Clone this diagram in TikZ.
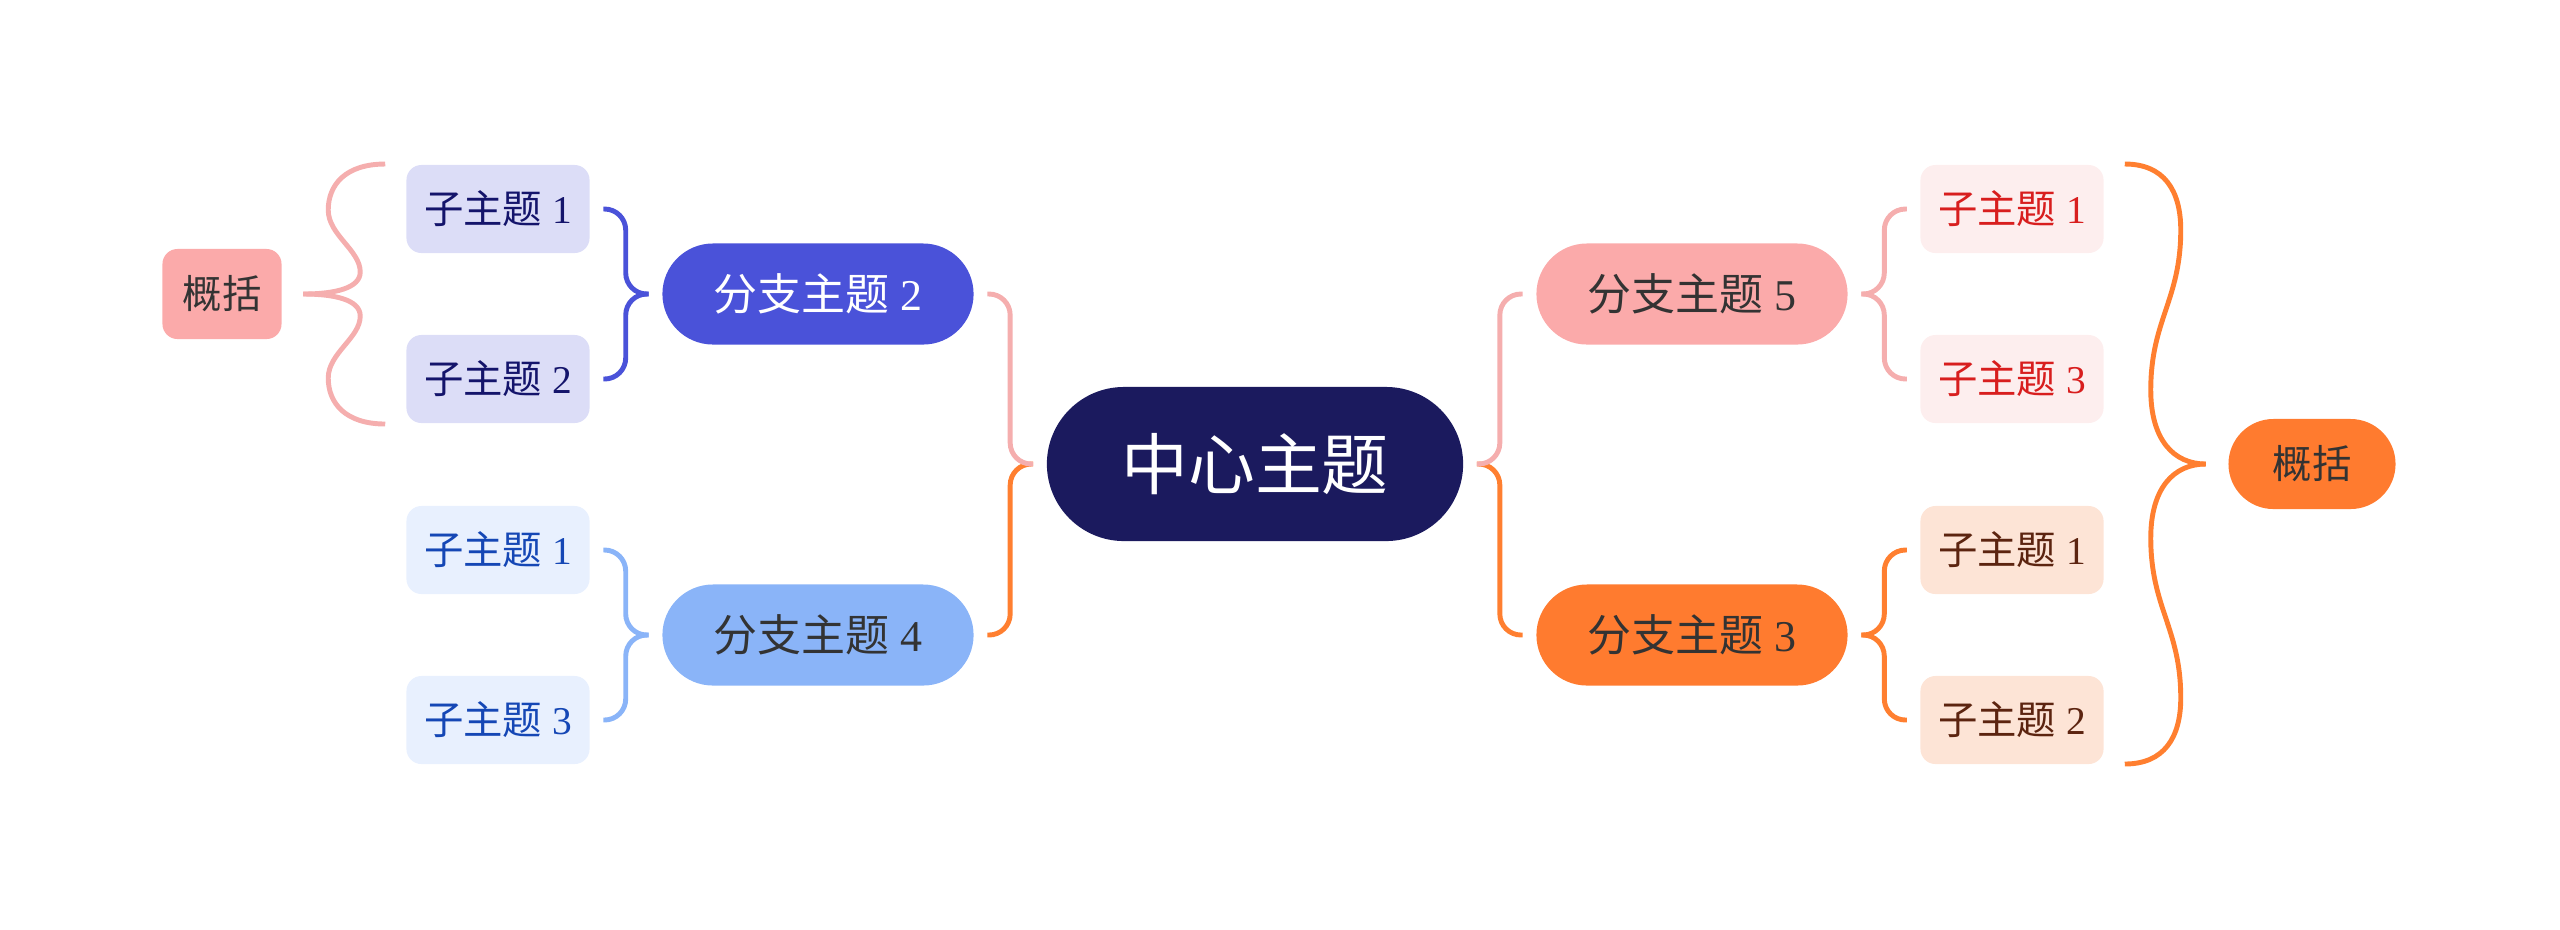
\documentclass[tikz,border=0pt]{standalone}
\usepackage{fontspec}
\setmainfont{Liberation Serif}
\newfontfamily\cjk{Noto Sans CJK SC}
\usepackage{tikz}
\usetikzlibrary{calc}
\definecolor{KNavy}{HTML}{1B1A5E}
\definecolor{KViolet}{HTML}{4A52D9}
\definecolor{KSkyBlue}{HTML}{8AB4F8}
\definecolor{KRose}{HTML}{FBAAAA}
\definecolor{KOrange}{HTML}{FF7B2F}
\definecolor{KInk}{HTML}{333333}
\definecolor{KLavender}{HTML}{DCDDF7}
\definecolor{KNavyText}{HTML}{14146B}
\definecolor{KIce}{HTML}{E8F0FE}
\definecolor{KBlueText}{HTML}{1547B5}
\definecolor{KBlush}{HTML}{FDEEEE}
\definecolor{KRedText}{HTML}{D81E1E}
\definecolor{KPeach}{HTML}{FDE4D6}
\definecolor{KBrownText}{HTML}{5C2410}
\definecolor{KPinkLine}{HTML}{F5AEAE}
\definecolor{KOrangeLine}{HTML}{FF7F30}
\tikzset{
  topic/.style={rectangle,inner sep=0pt,align=center},
  hub/.style={topic,fill=KNavy,text=white,minimum width=4.16cm,
              minimum height=1.54cm,rounded corners=0.77cm,
              font=\fontsize{19}{22}\selectfont},
  branch/.style={topic,minimum width=3.11cm,minimum height=1.01cm,
                 rounded corners=0.505cm,font=\fontsize{12.5}{15}\selectfont},
  leaf/.style={topic,minimum width=1.83cm,minimum height=0.88cm,
               rounded corners=0.15cm,font=\fontsize{11.2}{13}\selectfont},
  summary/.style={topic,minimum height=0.90cm,text=KInk,
                  font=\fontsize{11.2}{13}\selectfont},
  link/.style={line width=1.4pt,rounded corners=6pt},
  curl/.style={line width=1.4pt},
}
\newcommand{\elbow}[4]{% {colour}{parent side}{child side}{direction}
  \draw[link,#1] ($(#2)+({13*(#4)},0)$) -- ++({23*(#4)},0) |- ($(#3)+({-13*(#4)},0)$);
}

\begin{document}
\begin{tikzpicture}[x=0.01cm,y=-0.01cm]
  \useasboundingbox (0,0) rectangle (2560,929);
  % centre and branches
  \node[hub] (ctr) at (1255,464) {{\cjk 中心主题}};
  \node[branch,fill=KViolet,text=white] (b2) at (818,294) {{\cjk 分支主题} 2};
  \node[branch,fill=KSkyBlue,text=KInk] (b4) at (818,635) {{\cjk 分支主题} 4};
  \node[branch,fill=KRose,text=KInk] (b5) at (1692,294) {{\cjk 分支主题} 5};
  \node[branch,fill=KOrange,text=KInk] (b3) at (1692,635) {{\cjk 分支主题} 3};
  % leaves
  \node[leaf,fill=KLavender,text=KNavyText] (s21) at (498,209) {{\cjk 子主题} 1};
  \node[leaf,fill=KLavender,text=KNavyText] (s22) at (498,379) {{\cjk 子主题} 2};
  \node[leaf,fill=KIce,text=KBlueText] (s41) at (498,550) {{\cjk 子主题} 1};
  \node[leaf,fill=KIce,text=KBlueText] (s43) at (498,720) {{\cjk 子主题} 3};
  \node[leaf,fill=KBlush,text=KRedText] (s51) at (2012,209) {{\cjk 子主题} 1};
  \node[leaf,fill=KBlush,text=KRedText] (s53) at (2012,379) {{\cjk 子主题} 3};
  \node[leaf,fill=KPeach,text=KBrownText] (s31) at (2012,550) {{\cjk 子主题} 1};
  \node[leaf,fill=KPeach,text=KBrownText] (s32) at (2012,720) {{\cjk 子主题} 2};
  % summaries
  \node[summary,fill=KRose,minimum width=1.19cm,rounded corners=0.15cm] (sumL) at (222,294) {{\cjk 概括}};
  \node[summary,fill=KOrange,minimum width=1.67cm,rounded corners=0.45cm] (sumR) at (2312,464) {{\cjk 概括}};

  % connectors
  \elbow{KOrangeLine}{ctr.west}{b4.east}{-1}
  \elbow{KPinkLine}{ctr.west}{b2.east}{-1}
  \elbow{KOrangeLine}{ctr.east}{b3.west}{1}
  \elbow{KPinkLine}{ctr.east}{b5.west}{1}
  \elbow{KViolet}{b2.west}{s21.east}{-1}
  \elbow{KViolet}{b2.west}{s22.east}{-1}
  \elbow{KSkyBlue}{b4.west}{s41.east}{-1}
  \elbow{KSkyBlue}{b4.west}{s43.east}{-1}
  \elbow{KPinkLine}{b5.east}{s51.west}{1}
  \elbow{KPinkLine}{b5.east}{s53.west}{1}
  \elbow{KOrangeLine}{b3.east}{s31.west}{1}
  \elbow{KOrangeLine}{b3.east}{s32.west}{1}

  % summary braces
  \draw[curl,KPinkLine] ($(sumL.east)+(21,0)$) coordinate (tipL)
    .. controls +(32,0) and +(0,16) .. ++(57,-22)
    .. controls +(0,-22) and +(0,25) .. ++(-32,-62)
    .. controls +(0,-25) and +(-40,0) .. ++(57,-46);
  \draw[curl,KPinkLine] (tipL)
    .. controls +(32,0) and +(0,-16) .. ++(57,22)
    .. controls +(0,22) and +(0,-25) .. ++(-32,62)
    .. controls +(0,25) and +(-40,0) .. ++(57,46);
  \draw[curl,KOrangeLine] ($(sumR.west)+(-22,0)$) coordinate (tipR)
    .. controls +(-32,0) and +(0,50) .. ++(-55,-74)
    .. controls +(0,-70) and +(0,70) .. ++(30,-160)
    .. controls +(0,-40) and +(39,0) .. ++(-56,-66);
  \draw[curl,KOrangeLine] (tipR)
    .. controls +(-32,0) and +(0,-50) .. ++(-55,74)
    .. controls +(0,70) and +(0,-70) .. ++(30,160)
    .. controls +(0,40) and +(39,0) .. ++(-56,66);
\end{tikzpicture}
\end{document}
